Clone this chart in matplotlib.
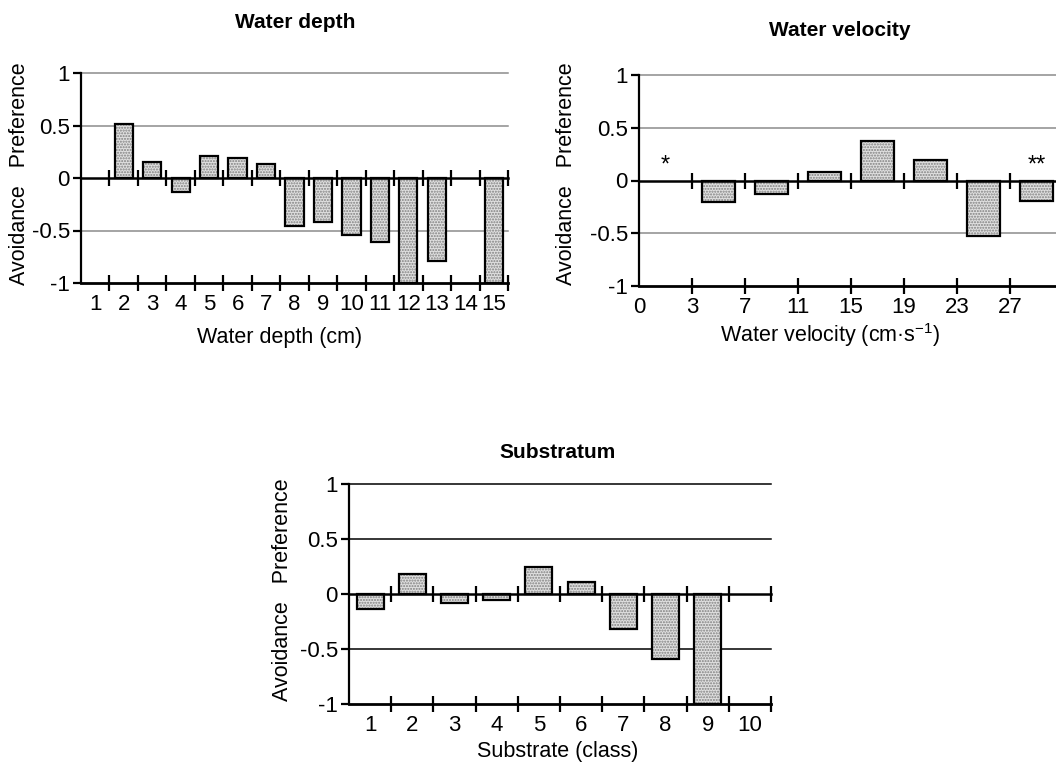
import numpy as np
import matplotlib.pyplot as plt

plt.rcParams['font.family'] = ['Liberation Sans', 'DejaVu Sans']
plt.rcParams['mathtext.default'] = 'regular'

# data (NaN = no bar)
depth_labels = ['1', '2', '3', '4', '5', '6', '7', '8', '9', '10', '11', '12', '13', '14', '15']
depth_values = [np.nan, 0.51, 0.15, -0.13, 0.21, 0.19, 0.13, -0.46, -0.42,
                -0.54, -0.61, -1.0, -0.79, np.nan, -1.0]

velocity_labels = ['0', '3', '7', '11', '15', '19', '23', '27']
velocity_values = [np.nan, -0.20, -0.13, 0.08, 0.37, 0.19, -0.53, -0.19]
velocity_marks = {0: '*', 7: '**'}

substrate_labels = ['1', '2', '3', '4', '5', '6', '7', '8', '9', '10']
substrate_values = [-0.14, 0.18, -0.08, -0.05, 0.25, 0.11, -0.32, -0.59, -1.0, np.nan]

W, H = 1056, 762
fig = plt.figure(figsize=(W / 100, H / 100), dpi=100)


def rect(left, right, top, bottom):
    return [left / W, 1 - bottom / H, (right - left) / W, (bottom - top) / H]


def ftext(x, y, s, **kw):
    fig.text(x / W, 1 - y / H, s, ha='center', va='center', **kw)


def panel(r, values, grid_color, zero_bounds, bottom_bounds):
    ax = fig.add_axes(r)
    n = len(values)
    x = np.arange(n)
    vals = np.array(values, dtype=float)
    ok = ~np.isnan(vals)
    ax.set_xlim(-0.5, n - 0.5)
    ax.set_ylim(-1, 1)
    for y in [1, 0.5, -0.5]:
        ax.axhline(y, color=grid_color, lw=1.1, zorder=1, clip_on=False)
    ax.bar(x[ok], vals[ok], width=0.64, color='#e0e0e0', hatch='......',
           edgecolor='#808080', lw=0, zorder=2)
    ax.bar(x[ok], vals[ok], width=0.64, fill=False, edgecolor='k', lw=1.6, zorder=2.5)
    ax.axhline(0, color='k', lw=1.8, zorder=3, clip_on=False)
    ax.axhline(-1, color='k', lw=2.0, zorder=3, clip_on=False)
    ax.plot(zero_bounds, [0] * len(zero_bounds), ls='none', marker='|', ms=11,
            mew=1.6, color='k', zorder=4, clip_on=False)
    ax.plot(bottom_bounds, [-1] * len(bottom_bounds), ls='none', marker='|', ms=11,
            mew=1.6, color='k', zorder=4, clip_on=False)
    for s in ['top', 'right', 'bottom']:
        ax.spines[s].set_visible(False)
    ax.spines['left'].set_linewidth(1.6)
    ax.spines['left'].set_zorder(5)
    ax.set_yticks([-1, -0.5, 0, 0.5, 1])
    ax.set_yticklabels(['-1', '-0.5', '0', '0.5', '1'])
    ax.tick_params(axis='y', direction='out', length=6, width=1.6, labelsize=16, pad=2)
    ax.tick_params(axis='x', length=0, labelsize=16, pad=8)
    ax.patch.set_visible(False)
    return ax


# Water depth
ax1 = panel(rect(81, 508, 73, 283), depth_values, '#8c8c8c',
            np.arange(0.5, 15), np.arange(0.5, 15))
ax1.set_xticks(np.arange(15))
ax1.set_xticklabels(depth_labels)
ftext(295, 22, 'Water depth', fontsize=15, fontweight='bold')
ftext(280, 337, 'Water depth (cm)', fontsize=15.5)
ftext(20, 174, 'Avoidance   Preference', fontsize=15.5, rotation=90)

# Water velocity
ax2 = panel(rect(639, 1063, 75, 286), velocity_values, '#8c8c8c',
            np.arange(0.5, 8), np.arange(0.5, 8))
ax2.set_xticks(np.arange(8) - 0.5)
ax2.set_xticklabels(velocity_labels)
for i, m in velocity_marks.items():
    ax2.text(i, 0.04, m, ha='center', va='bottom', fontsize=17)
ftext(840, 30, 'Water velocity', fontsize=15, fontweight='bold')
ftext(830, 335, 'Water velocity (cm·s$^{-1}$)', fontsize=15.5)
ftext(566, 174, 'Avoidance   Preference', fontsize=15.5, rotation=90)

# Substratum
ax3 = panel(rect(349, 771, 484, 704), substrate_values, 'k',
            np.arange(0.5, 10), np.arange(0.5, 10))
ax3.set_xticks(np.arange(10))
ax3.set_xticklabels(substrate_labels)
ftext(558, 452, 'Substratum', fontsize=15, fontweight='bold')
ftext(558, 752, 'Substrate (class)', fontsize=15.5)
ftext(283, 590, 'Avoidance   Preference', fontsize=15.5, rotation=90)

fig.savefig('out.png', dpi=100)
